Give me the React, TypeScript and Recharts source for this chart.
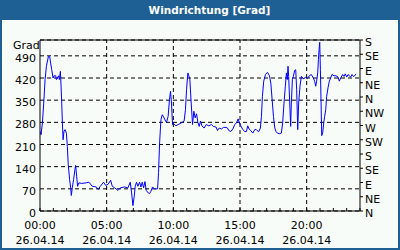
import React from 'react';
import { ComposedChart, Line, XAxis, YAxis, CartesianGrid, ReferenceLine } from 'recharts';

// wind direction readings: [hour of day, degrees]
const readings: [number, number][] = [
  [0, 251], [0.08, 241], [0.18, 278], [0.28, 341], [0.38, 415], [0.48, 457], [0.63, 488], [0.73, 487], [0.8, 467], [0.88, 446],
  [0.98, 420], [1.05, 427], [1.18, 427], [1.23, 415], [1.3, 420], [1.4, 427], [1.45, 415], [1.53, 441], [1.58, 394], [1.63, 341],
  [1.68, 278], [1.73, 225], [1.8, 252], [1.88, 257], [1.98, 246], [2.05, 204], [2.12, 146], [2.22, 99], [2.3, 73], [2.35, 49],
  [2.42, 73], [2.52, 99], [2.62, 131], [2.67, 144], [2.75, 110], [2.82, 78], [2.92, 89], [3.1, 87], [3.47, 89], [3.67, 91],
  [3.92, 78], [4.22, 76], [4.37, 68], [4.52, 78], [4.77, 91], [4.92, 81], [5.1, 84], [5.3, 97], [5.42, 78], [5.6, 73],
  [5.85, 65], [6.02, 73], [6.35, 76], [6.59, 73], [6.77, 91], [6.87, 57], [6.97, 17], [7.07, 47], [7.14, 78], [7.24, 91],
  [7.34, 78], [7.47, 91], [7.57, 76], [7.67, 91], [7.77, 73], [7.87, 93], [7.97, 65], [8.12, 57], [8.22, 55],
  [8.32, 62], [8.44, 76], [8.57, 70], [8.82, 70], [8.89, 121], [8.97, 215], [9.07, 288], [9.17, 304], [9.27, 297], [9.42, 284],
  [9.49, 280], [9.61, 299], [9.71, 352], [9.79, 378], [9.86, 341], [9.94, 273], [10.01, 276], [10.19, 269], [10.36, 273], [10.51, 276],
  [10.66, 280], [10.81, 284], [10.91, 320], [10.99, 383], [11.09, 436], [11.16, 427], [11.24, 415], [11.34, 341], [11.44, 273], [11.54, 315],
  [11.64, 294], [11.74, 307], [11.84, 280], [11.94, 267], [12.04, 284], [12.14, 269], [12.31, 262], [12.46, 273], [12.66, 269], [12.86, 273],
  [13.01, 267], [13.21, 265], [13.31, 254], [13.44, 262], [13.61, 259], [13.76, 264], [13.96, 264], [14.06, 262], [14.16, 254], [14.31, 251],
  [14.46, 259], [14.61, 273], [14.76, 280], [14.86, 291], [14.96, 278], [15.06, 269], [15.21, 257], [15.36, 251], [15.48, 251], [15.58, 269],
  [15.68, 259], [15.81, 254], [15.96, 246], [16.11, 257],
  [16.2, 258], [16.28, 254], [16.41, 251], [16.53, 262], [16.61, 299], [16.68, 362], [16.78, 410], [16.91, 431], [17.06, 438], [17.21, 427],
  [17.31, 404], [17.41, 352], [17.51, 299], [17.61, 262], [17.7, 251], [17.8, 246], [17.95, 244], [18.1, 246], [18.2, 278], [18.3, 341],
  [18.4, 394], [18.48, 436], [18.55, 415], [18.6, 457], [18.65, 425], [18.73, 341], [18.8, 267], [18.85, 341], [18.93, 415], [19.0, 425],
  [19.1, 444], [19.18, 446], [19.25, 383], [19.33, 257], [19.4, 341], [19.5, 394], [19.6, 425], [19.7, 420], [19.8, 417], [19.9, 423],
  [20.05, 418], [20.2, 427], [20.35, 431], [20.5, 420], [20.6, 410], [20.68, 394], [20.75, 410], [20.83, 436], [20.88, 478], [20.93, 510],
  [20.98, 533], [21.03, 446], [21.08, 341], [21.13, 238], [21.2, 246], [21.28, 278], [21.35, 299], [21.43, 320], [21.5, 362], [21.6, 389],
  [21.7, 410], [21.8, 420], [21.9, 431], [22.05, 427], [22.2, 427], [22.35, 423], [22.45, 410], [22.55, 420], [22.7, 431], [22.8, 425],
  [22.9, 433], [23.0, 423], [23.1, 431], [23.2, 427], [23.3, 423], [23.4, 431], [23.5, 425], [23.6, 427], [23.7, 433],
];

const leftTicks = [0, 70, 140, 210, 280, 350, 420, 490];
const rightTicks = [0, 45, 90, 135, 180, 225, 270, 315, 360, 405, 450, 495, 540];
const rightLabels = ['N', 'NE', 'E', 'SE', 'S', 'SW', 'W', 'NW', 'N', 'NE', 'E', 'SE', 'S'];
const hourTicks = [0, 1, 2, 3, 4, 5, 6, 7, 8, 9, 10, 11, 12, 13, 14, 15, 16, 17, 18, 19, 20, 21, 22, 23, 24];
const labelHours = [0, 5, 10, 15, 20];
const timeLabels = ['00:00', '05:00', '10:00', '15:00', '20:00'];
const dateLabel = '26.04.14';
const title = 'Windrichtung [Grad]';
const unitLabel = 'Grad';

const data = readings.map(([t, v]) => ({ t, v }));

const FONT = '"DejaVu Sans", Verdana, sans-serif';

const TimeTick = (props: any) => {
  const { x, y, payload } = props;
  const idx = labelHours.indexOf(payload.value);
  if (idx < 0) return <g />;
  return (
    <g>
      <text x={x} y={y + 18} textAnchor="middle" fill="#000" fontSize={11} fontFamily={FONT}>
        {timeLabels[idx]}
      </text>
      <text x={x} y={y + 33} textAnchor="middle" fill="#000" fontSize={11} fontFamily={FONT}>
        {dateLabel}
      </text>
    </g>
  );
};

const LeftTick = (props: any) => {
  const { x, y, payload } = props;
  return (
    <text x={x} y={y + 6} textAnchor="end" fill="#000" fontSize={11} fontFamily={FONT}>
      {payload.value}
    </text>
  );
};

const RightTick = (props: any) => {
  const { x, y, payload } = props;
  return (
    <text x={x} y={y + 6} textAnchor="start" fill="#000" fontSize={11} fontFamily={FONT}>
      {rightLabels[rightTicks.indexOf(payload.value)]}
    </text>
  );
};

export default function App() {
  return (
    <div style={{ position: 'absolute', left: 0, top: 0, width: 400, height: 250, background: '#1e5f94', fontFamily: FONT }}>
      <div
        style={{
          position: 'absolute', left: 0, top: 0, width: 400, height: 20, lineHeight: '20px',
          textAlign: 'center', paddingLeft: 19, boxSizing: 'border-box', color: '#fff',
          fontWeight: 'bold', fontSize: 10.5,
        }}
      >
        {title}
      </div>
      <div style={{ position: 'absolute', left: 2, top: 20, width: 396, height: 228, background: '#f8fcf8' }} />
      <div style={{ position: 'absolute', left: 13, top: 40, fontSize: 11, lineHeight: '11px', color: '#000' }}>
        {unitLabel}
      </div>
      <div style={{ position: 'absolute', left: 0, top: 0 }}>
        <ComposedChart width={400} height={250} data={data} margin={{ top: 40, right: 0, bottom: 0, left: 0 }}>
          <CartesianGrid yAxisId="left" vertical={false} stroke="#000" strokeDasharray="4 3" />
          <XAxis
            dataKey="t"
            type="number"
            domain={[0, 24]}
            ticks={hourTicks}
            interval={0}
            height={39}
            tickSize={-3}
            tickMargin={3}
            tick={<TimeTick />}
            axisLine={{ stroke: '#000' }}
            tickLine={{ stroke: '#000' }}
            allowDataOverflow
          />
          <YAxis
            yAxisId="left"
            domain={[0, 540]}
            ticks={leftTicks}
            interval={0}
            width={40}
            tickSize={0}
            tickMargin={4}
            tickLine={false}
            axisLine={{ stroke: '#000' }}
            tick={<LeftTick />}
            allowDataOverflow
          />
          <YAxis
            yAxisId="right"
            orientation="right"
            domain={[0, 540]}
            ticks={rightTicks}
            interval={0}
            width={40}
            tickSize={3}
            tickMargin={2}
            axisLine={{ stroke: '#000' }}
            tickLine={{ stroke: '#000' }}
            tick={<RightTick />}
            allowDataOverflow
          />
          {labelHours.slice(1).map((h) => (
            <ReferenceLine key={h} x={h} yAxisId="left" stroke="#000" strokeDasharray="4 3" />
          ))}
          <ReferenceLine y={540} yAxisId="left" stroke="#000" />
          <Line
            yAxisId="left"
            type="linear"
            dataKey="v"
            stroke="#0000ff"
            strokeWidth={1}
            dot={false}
            isAnimationActive={false}
          />
        </ComposedChart>
      </div>
    </div>
  );
}
